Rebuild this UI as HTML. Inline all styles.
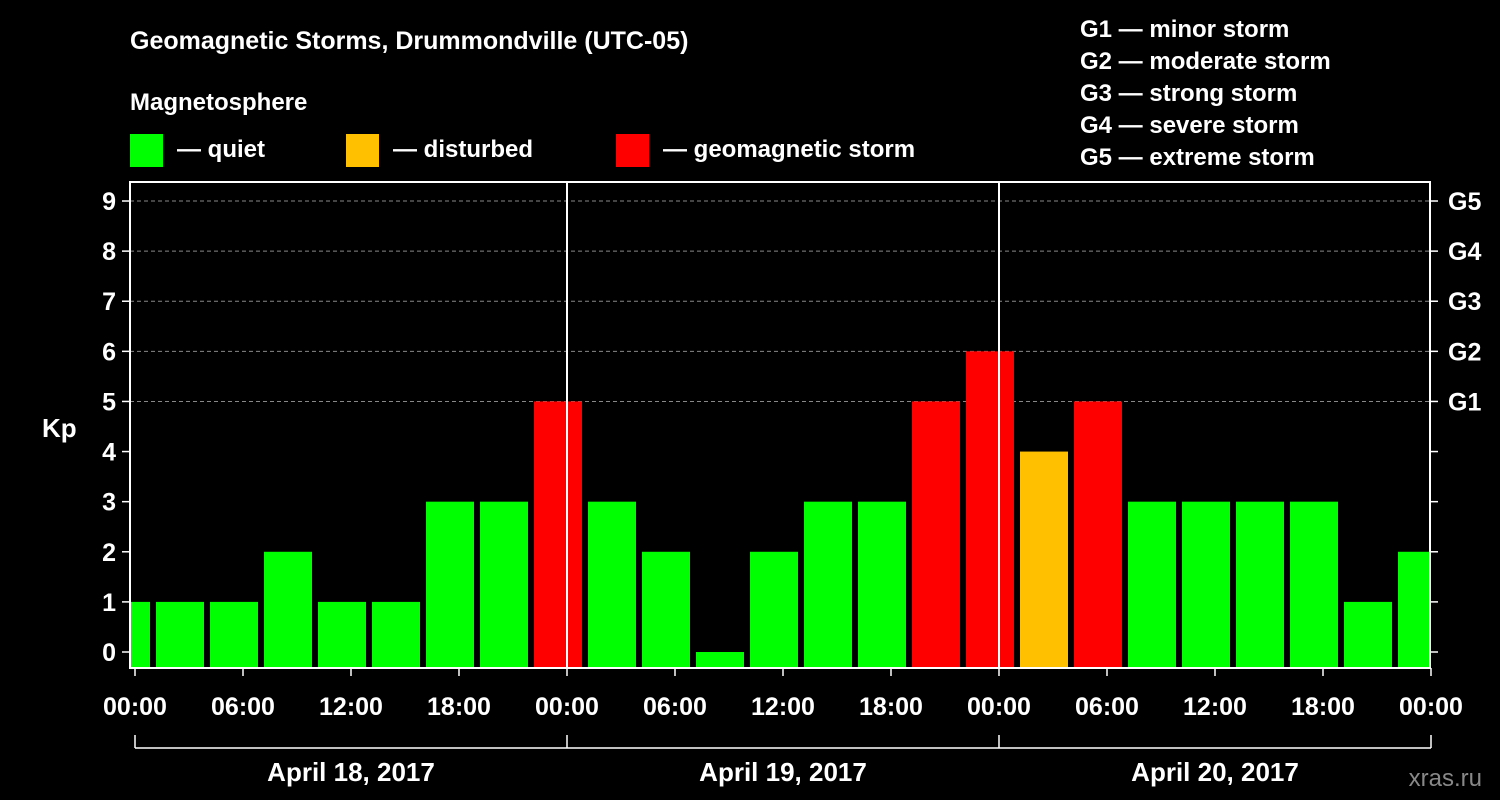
<!DOCTYPE html>
<html><head><meta charset="utf-8"><style>
html,body{margin:0;padding:0;background:#000;}
svg{display:block;font-family:"Liberation Sans",Arial,sans-serif;font-weight:bold;}
</style></head><body>
<svg id="chart" width="1500" height="800" viewBox="0 0 1500 800">
<rect x="0" y="0" width="1500" height="800" fill="#000"/>
<text x="130" y="49" fill="#fff" font-size="25">Geomagnetic Storms, Drummondville (UTC-05)</text>
<text x="130" y="110" fill="#fff" font-size="24">Magnetosphere</text>
<g><rect x="130" y="134" width="33" height="33" fill="#00ff00"/><text x="177" y="157" fill="#fff" font-size="24">— quiet</text></g>
<g><rect x="346" y="134" width="33" height="33" fill="#ffc000"/><text x="393" y="157" fill="#fff" font-size="24">— disturbed</text></g>
<g><rect x="616" y="134" width="33" height="33" fill="#ff0000"/><text x="663" y="157" fill="#fff" font-size="24">— geomagnetic storm</text></g>
<g fill="#fff" font-size="24">
<text x="1080" y="37">G1 — minor storm</text>
<text x="1080" y="69">G2 — moderate storm</text>
<text x="1080" y="101">G3 — strong storm</text>
<text x="1080" y="133">G4 — severe storm</text>
<text x="1080" y="165">G5 — extreme storm</text>
</g>
<text x="42" y="437" fill="#fff" font-size="26">Kp</text>
<text x="1482" y="786" fill="#888" font-size="24" font-weight="normal" text-anchor="end">xras.ru</text>
<defs><clipPath id="pc"><rect x="130" y="182" width="1300" height="486"/></clipPath></defs>
<g id="grid"></g>
<g id="bars" clip-path="url(#pc)"></g>
<g id="axes"></g>
</svg>
<script>
const kpValues=[1,1,1,2,1,1,3,3,5,3,2,0,2,3,3,5,6,4,5,3,3,3,3,1,2];
const firstBarStartHour=-2;
const yTicks=[0,1,2,3,4,5,6,7,8,9];
const gLabels=["G1","G2","G3","G4","G5"];
const xTickLabels=["00:00","06:00","12:00","18:00","00:00","06:00","12:00","18:00","00:00","06:00","12:00","18:00","00:00"];
const dateLabels=["April 18, 2017","April 19, 2017","April 20, 2017"];
const NS="http://www.w3.org/2000/svg";
const L=130,R=1430,T=182,B=668,X0=135,HPX=18;
const xs=h=>X0+h*HPX;
const ys=v=>652-v*50.11;
function mk(tag,attrs,parent,txt){const e=document.createElementNS(NS,tag);for(const k in attrs)e.setAttribute(k,attrs[k]);if(txt!==undefined)e.textContent=txt;parent.appendChild(e);return e;}
const grid=document.getElementById('grid'),bars=document.getElementById('bars'),axes=document.getElementById('axes');
for(let v=5;v<=9;v++){const l=mk('line',{x1:L,x2:R,y1:ys(v),y2:ys(v),stroke:'#888','stroke-dasharray':'4,3','stroke-width':1},grid);

}
kpValues.forEach((v,i)=>{const h0=firstBarStartHour+3*i;const x=xs(h0)+3;const c=v>=5?'#ff0000':(v>=4?'#ffc000':'#00ff00');
const r=mk('rect',{x:x,y:ys(v),width:3*HPX-6,height:B-ys(v),fill:c},bars);

});
[24,48].forEach(h=>{const l=mk('line',{x1:xs(h),x2:xs(h),y1:T,y2:B,stroke:'#fff','stroke-width':2},axes);

});
const f=mk('rect',{x:L,y:T,width:R-L,height:B-T,fill:'none',stroke:'#fff','stroke-width':2},axes);


yTicks.forEach(v=>{const y=ys(v);
mk('line',{x1:L-8,x2:L,y1:y,y2:y,stroke:'#fff','stroke-width':1.5},axes);
mk('line',{x1:R,x2:R+8,y1:y,y2:y,stroke:'#fff','stroke-width':1.5},axes);
const t=mk('text',{x:L-14,y:y+9,fill:'#fff','font-size':25,'text-anchor':'end'},axes,String(v));


if(v>=5){const g=mk('text',{x:R+18,y:y+9,fill:'#fff','font-size':25},axes,gLabels[v-5]);

}});
xTickLabels.forEach((s,i)=>{const x=xs(i*6);
mk('line',{x1:x,x2:x,y1:B,y2:B+8,stroke:'#fff','stroke-width':1.5},axes);
const t=mk('text',{x:x,y:715,fill:'#fff','font-size':25,'text-anchor':'middle'},axes,s);

});
mk('line',{x1:xs(0),x2:xs(72),y1:748,y2:748,stroke:'#fff','stroke-width':1.5},axes);
[0,24,48,72].forEach(h=>mk('line',{x1:xs(h),x2:xs(h),y1:735,y2:748,stroke:'#fff','stroke-width':1.5},axes));
dateLabels.forEach((s,i)=>{const t=mk('text',{x:xs(i*24+12),y:781,fill:'#fff','font-size':26,'text-anchor':'middle'},axes,s);

});
</script>
</body></html>
